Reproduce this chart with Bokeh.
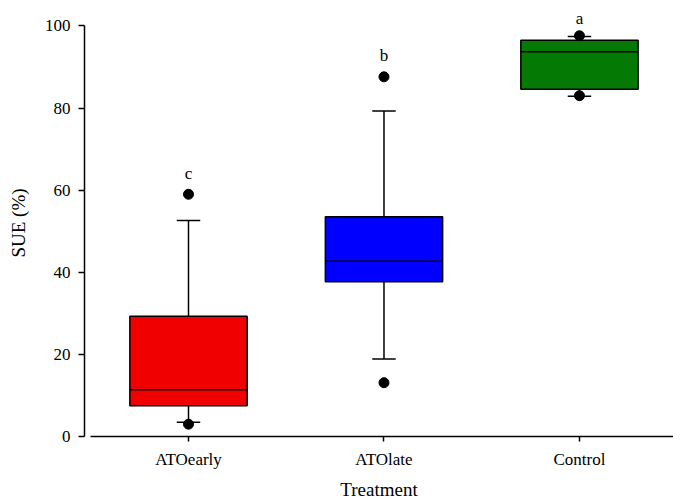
from bokeh.plotting import figure
from bokeh.models import Range1d, LinearAxis, FixedTicker
from bokeh.core.properties import value
from bokeh.embed import file_html
from bokeh.resources import INLINE

# ---- data ----
categories = ["ATOearly", "ATOlate", "Control"]
q1 = [7.5, 37.7, 84.6]
median = [11.4, 42.7, 93.7]
q3 = [29.3, 53.5, 96.5]
whisker_low = [3.5, 18.9, 82.9]
whisker_high = [52.6, 79.3, 97.4]
colors = ["#f00000", "#0000ff", "#047a04"]
outlier_cat = ["ATOearly", "ATOearly", "ATOlate", "ATOlate", "Control", "Control"]
outlier_val = [3.0, 59.0, 13.1, 87.6, 83.0, 97.6]
letters = ["c", "b", "a"]
letter_y = [64.0, 92.7, 101.9]
y_ticks = [0, 20, 40, 60, 80, 100]

FONT = "Liberation Serif"
BOX_W = 0.6
CAP_W = 0.12

xs = list(range(len(categories)))
ox = [categories.index(c) for c in outlier_cat]

p = figure(width=673, height=502, output_backend="svg", toolbar_location=None,
           x_range=Range1d(-0.532, 2.481), y_range=Range1d(0, 104),
           x_axis_type=None, y_axis_type=None,
           min_border_left=84, min_border_right=0, min_border_top=9, min_border_bottom=66)
p.outline_line_color = None
p.xgrid.visible = False
p.ygrid.visible = False

# axes
yax = LinearAxis(bounds=(0, 100), ticker=FixedTicker(ticks=y_ticks), axis_label="SUE (%)")
xax = LinearAxis(bounds=(-0.5, 3.0), ticker=FixedTicker(ticks=xs), axis_label="Treatment",
                 major_label_overrides={i: c for i, c in enumerate(categories)})
for ax in (yax, xax):
    ax.axis_line_width = 1.5
    ax.major_tick_line_width = 1.5
    ax.minor_tick_line_color = None
    ax.major_tick_in = 0
    ax.major_label_text_font = FONT
    ax.major_label_text_font_size = "17px"
    ax.major_label_text_color = "black"
    ax.axis_label_text_font = FONT
    ax.axis_label_text_font_size = "19px"
    ax.axis_label_text_font_style = "normal"
    ax.axis_label_text_color = "black"
yax.major_tick_out = 6
yax.major_label_standoff = 8
yax.axis_label_standoff = 13
xax.major_tick_out = 5
xax.major_label_standoff = 8
xax.axis_label_standoff = 7
p.add_layout(yax, "left")
p.add_layout(xax, "below")

# whiskers
p.segment(x0=xs, y0=q3, x1=xs, y1=whisker_high, line_color="black", line_width=1.5)
p.segment(x0=xs, y0=q1, x1=xs, y1=whisker_low, line_color="black", line_width=1.5)
p.segment(x0=[x - CAP_W / 2 for x in xs], y0=whisker_high, x1=[x + CAP_W / 2 for x in xs],
          y1=whisker_high, line_color="black", line_width=1.5)
p.segment(x0=[x - CAP_W / 2 for x in xs], y0=whisker_low, x1=[x + CAP_W / 2 for x in xs],
          y1=whisker_low, line_color="black", line_width=1.5)

# boxes
p.vbar(x=xs, width=BOX_W, bottom=q1, top=q3, fill_color=colors, line_color="black", line_width=1.5)
p.segment(x0=[x - BOX_W / 2 for x in xs], y0=median, x1=[x + BOX_W / 2 for x in xs],
          y1=median, line_color="black", line_width=1.5)

# outliers
p.scatter(x=ox, y=outlier_val, size=10, marker="circle", fill_color="black", line_color="black")

# significance letters
p.text(x=xs, y=letter_y, text=letters, text_font=value(FONT), text_font_size="17px",
       text_align="center", text_baseline="middle", text_color="black")

open("out.html", "w").write(file_html(p, INLINE))
